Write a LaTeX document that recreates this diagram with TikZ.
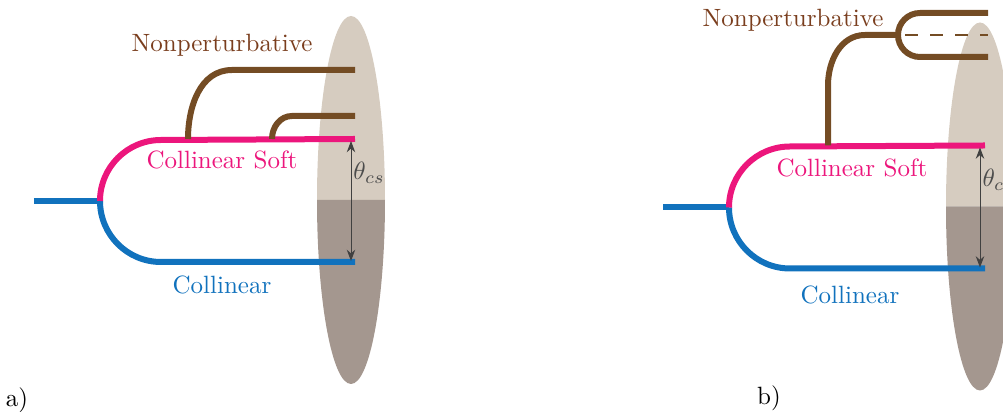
\documentclass[tikz,border=0pt]{standalone}
\usetikzlibrary{arrows.meta}
\definecolor{cspink}{RGB}{236,22,124}
\definecolor{colblue}{RGB}{17,114,189}
\definecolor{npbrown}{RGB}{116,76,36}
\definecolor{nptext}{RGB}{122,62,30}
\definecolor{jetlight}{RGB}{214,204,192}
\definecolor{jetdark}{RGB}{164,151,143}
\tikzset{
  leg/.style={line width=2.4pt},
  angarrow/.style={{Stealth[length=4.5pt]}-{Stealth[length=4.5pt]}, black!75, thin},
  jet/.style={draw=none}
}
\begin{document}
\begin{tikzpicture}[x=0.4pt, y=0.4pt]
  \clip (0,0) rectangle (1003,412);
  % a) collinear soft fork
  \begin{scope}
    \fill[jetlight] (317,212) arc[start angle=180, end angle=0, x radius=34, y radius=184] -- cycle;
    \fill[jetdark] (317,212) arc[start angle=180, end angle=360, x radius=34, y radius=184] -- cycle;
    \coordinate (ain) at (34,211);
    \coordinate (aj) at (100,211);
    \coordinate (acs) at (355,273);
    \coordinate (acol) at (355,150);
    \draw[leg, colblue] (ain) -- (aj);
    \draw[leg, colblue] (aj) arc[start angle=180, end angle=270, radius=61] -- (acol);
    \draw[leg, cspink] (aj) arc[start angle=180, end angle=90, radius=61] -- (acs);
    \draw[leg, npbrown] (188,273) to[out=90, in=180] (232,342) -- (355,342);
    \draw[leg, npbrown] (272,273) to[out=90, in=180] (292,296) -- (355,296);
    \draw[angarrow] (351,271) -- (351,151);
    \node[anchor=west, text=black!70, inner sep=0pt] (atheta) at (353,239) {$\theta_{cs}$};
    \node[text=nptext] (anp) at (222,367) {Nonperturbative};
    \node[text=cspink] (acslab) at (222,252) {Collinear Soft};
    \node[text=colblue] (acollab) at (222,127) {Collinear};
  \end{scope}
  \node (alab) at (17,12) {a)};
  % b) nonperturbative splitting
  \begin{scope}[shift={(629,-6.5)}]
    \fill[jetlight] (317,212) arc[start angle=180, end angle=0, x radius=34, y radius=184] -- cycle;
    \fill[jetdark] (317,212) arc[start angle=180, end angle=360, x radius=34, y radius=184] -- cycle;
    \coordinate (bin) at (34,211);
    \coordinate (bj) at (100,211);
    \coordinate (bcs) at (356,273);
    \coordinate (bcol) at (356,150);
    \coordinate (bk) at (269,383.5);
    \draw[leg, colblue] (bin) -- (bj);
    \draw[leg, colblue] (bj) arc[start angle=180, end angle=270, radius=61] -- (bcol);
    \draw[leg, cspink] (bj) arc[start angle=180, end angle=90, radius=61] -- (bcs);
    \draw[leg, npbrown] (199,273) -- (199,333) to[out=90, in=180] (236,383.5) -- (bk);
    \draw[leg, npbrown] (bk) arc[start angle=180, end angle=90, radius=22] -- (359,405.5);
    \draw[leg, npbrown] (bk) arc[start angle=180, end angle=270, radius=22] -- (359,361.5);
    \draw[npbrown, line width=1pt, dash pattern=on 5.2pt off 4.8pt] (276,383.5) -- (359,383.5);
    \draw[angarrow] (351,271) -- (351,151);
    \node[anchor=west, text=black!70, inner sep=0pt] (btheta) at (353,239) {$\theta_{cs}$};
    \node[text=nptext] (bnp) at (164,398.5) {Nonperturbative};
    \node[text=cspink] (bcslab) at (223,250.5) {Collinear Soft};
    \node[text=colblue] (bcollab) at (221,123.5) {Collinear};
  \end{scope}
  \node (blab) at (769,14) {b)};
\end{tikzpicture}
\end{document}
